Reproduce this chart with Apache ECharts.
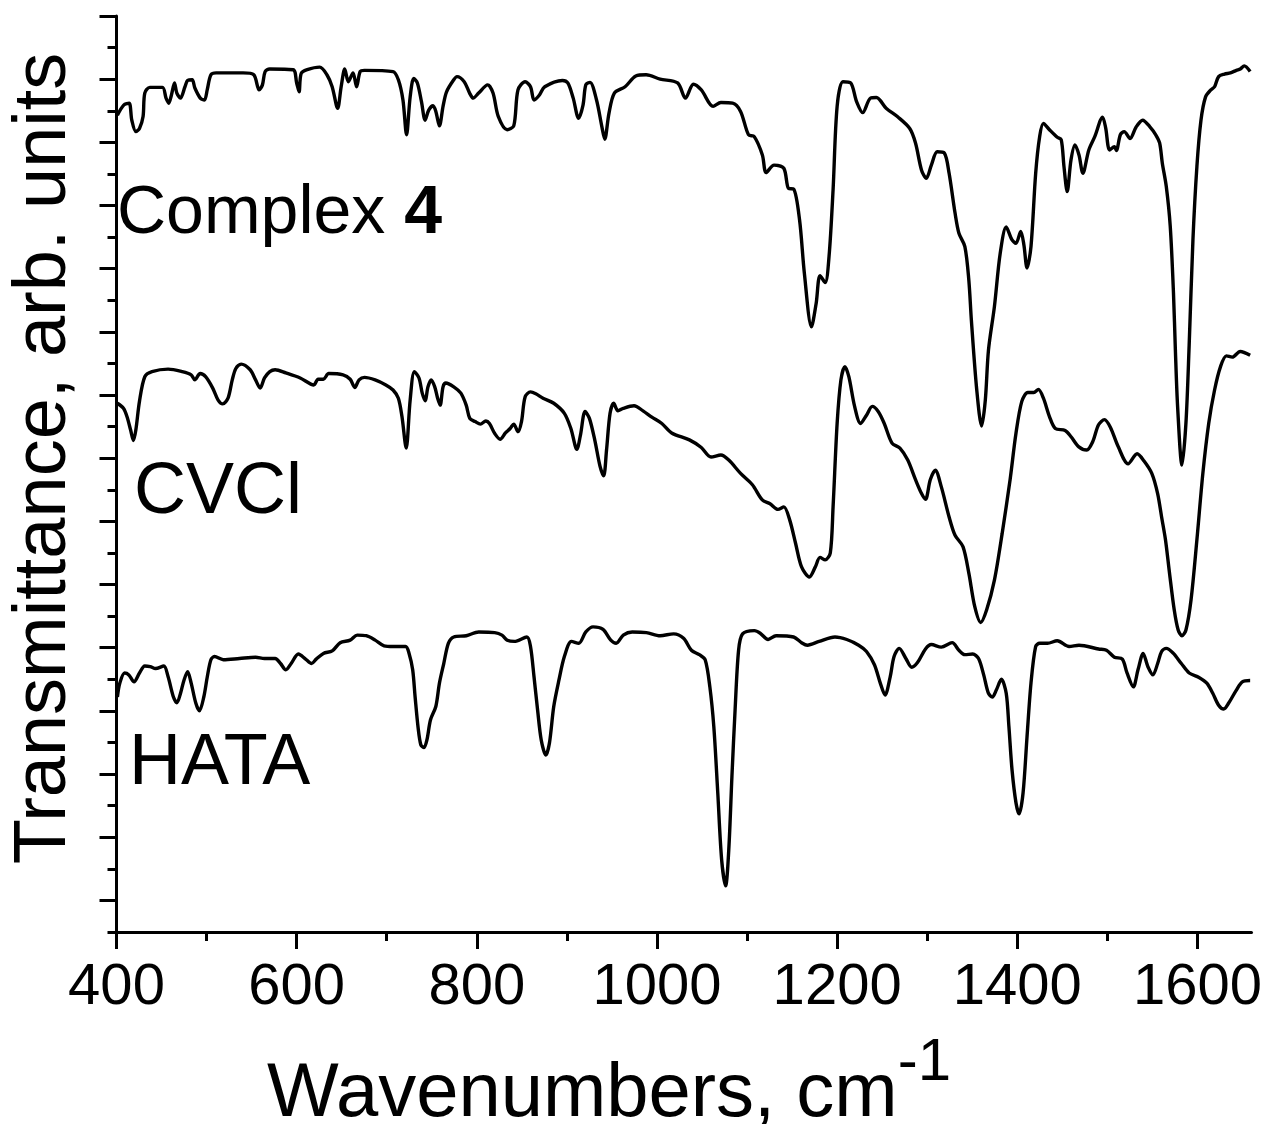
<!DOCTYPE html>
<html>
<head>
<meta charset="utf-8">
<script src="https://cdn.jsdelivr.net/npm/echarts@6/dist/echarts.min.js"></script>
<style>
html,body{margin:0;padding:0;background:#fff;}
#chart{width:1267px;height:1124px;}
</style>
</head>
<body>
<div id="chart"></div>
<script>
// Tick positions (wavenumber, cm-1) and transmittance axis (arb. units)
const X_MAJOR = [400, 600, 800, 1000, 1200, 1400, 1600];
const X_MINOR = [500, 700, 900, 1100, 1300, 1500];
const Y_MAJOR = [5, 15, 25, 35, 45, 55, 65, 75, 85, 95, 105, 115, 125, 135, 145];
const Y_MINOR = [0, 10, 20, 30, 40, 50, 60, 70, 80, 90, 100, 110, 120, 130, 140];

const SERIES_NAMES = ['Complex 4', 'CVCl', 'HATA'];

// [wavenumber, transmittance (offset, arb. units)]
const COMPLEX4 = [
[401,129.3],[408,130.9],[414,131.2],[417,128.5],[421.5,126.7],[425.5,127.2],[429.5,129.1],[431.4,132.8],[437,133.7],[451,133.7],[455,132.0],[458,131.2],[461,132.5],[464.4,134.4],[467,132.8],[471,132.0],[476,133.8],[479,134.8],[484,134.9],[487,133.6],[493,132.0],[497.6,131.7],[500.7,133.3],[504.8,135.7],[510.7,136.0],[540.5,136.0],[552.4,135.7],[558.3,133.3],[562,134.1],[565,136.2],[570,136.6],[596,136.5],[600,134.4],[602.7,133.0],[605,135.9],[611.7,136.5],[625.6,136.9],[633.6,135.7],[639.4,133.8],[645.5,130.4],[649.4,133.8],[653.4,136.6],[657.4,134.6],[662.6,136.0],[666.5,133.8],[670.5,136.2],[675.3,136.4],[707,136.2],[712.9,134.9],[718,131.7],[722,126.2],[726,132.2],[730,135.1],[734,134.4],[738.6,131.4],[742.6,128.5],[746.6,130.1],[751.4,130.8],[754.5,129.9],[758.5,127.6],[762.5,130.7],[766.4,133.0],[774.4,134.9],[778,135.4],[786,134.6],[792,132.8],[796,132.0],[802,132.8],[812,134.1],[818,132.8],[823.8,129.1],[833.6,127.0],[841,127.6],[845.7,133.3],[853.6,134.6],[859.6,133.8],[863.6,131.7],[869.5,132.5],[875.4,133.8],[895,134.8],[901,134.4],[907,132.0],[913,128.8],[917.9,130.9],[921,134.1],[925.7,134.5],[932.9,131.7],[938.8,127.5],[942,125.5],[946.7,129.6],[952.7,132.8],[964.6,133.8],[976.5,135.5],[988,135.7],[1003.5,135.0],[1022.9,134.4],[1031.6,132.0],[1040.4,134.2],[1049.2,133.3],[1062.3,130.7],[1071,131.3],[1084,131.2],[1092.8,129.9],[1101.6,126.2],[1108,125.9],[1117,123.0],[1121.2,120.2],[1130,121.4],[1140.8,120.9],[1146,117.7],[1151.7,117.6],[1158.3,112.7],[1163.6,104.3],[1171.5,95.8],[1176.7,99.5],[1181,103.9],[1186.7,102.8],[1191,106.9],[1195.5,117.5],[1200,130.7],[1206.4,134.6],[1215,134.4],[1221.7,131.4],[1228.3,129.7],[1237,132.0],[1243.6,132.1],[1254.4,130.4],[1267.5,129.0],[1280.6,127.2],[1287,124.9],[1293.7,120.6],[1299,119.3],[1304.6,121.4],[1311.2,123.5],[1319,123.3],[1324.3,120.1],[1330.9,113.8],[1335.2,110.6],[1341.8,108.5],[1346.2,103.2],[1349,96.9],[1355,85.8],[1360.4,80.1],[1364.5,84.2],[1368,92.1],[1374.6,99.0],[1381,107.4],[1387.7,111.6],[1394,109.6],[1398.5,109.0],[1403.8,110.9],[1407.3,108.8],[1410.8,105.1],[1415.2,108.5],[1420.4,120.1],[1424.8,125.9],[1429,128.0],[1435.7,127.0],[1444.4,125.8],[1448.8,125.4],[1451.8,121.2],[1455.4,117.2],[1459.6,122.2],[1464,124.6],[1468.5,123.0],[1472.8,120.1],[1479.4,123.8],[1486,125.9],[1494.7,129.0],[1498.1,127.3],[1502.5,123.8],[1507.8,124.3],[1510,123.7],[1514.4,126.2],[1518.7,126.7],[1525.2,125.6],[1531.8,127.4],[1539.2,128.5],[1547,127.5],[1553.7,126.2],[1558,124.9],[1561,121.7],[1565.4,118.0],[1569.8,111.7],[1573.4,101.1],[1575.5,92.1],[1578,83.1],[1582.8,73.9],[1587.2,80.5],[1590.8,92.9],[1595,109.6],[1599.4,121.2],[1603.9,128.5],[1609,132.2],[1614.8,133.3],[1619,133.8],[1623.5,135.4],[1630,135.8],[1636.6,136.0],[1643.2,136.4],[1647.5,136.6],[1652,137.1],[1658.5,136.2]
];

const CVCL = [
[401,83.7],[407.7,82.9],[411.6,81.6],[415.6,79.5],[418.8,77.8],[421.5,79.5],[425.5,84.0],[431.4,87.9],[439.4,88.7],[457.3,89.1],[473,88.7],[482.9,88.2],[486.9,87.4],[492.9,88.4],[498.9,87.9],[506.8,86.1],[512.8,84.2],[517.9,83.6],[523.8,84.5],[528.5,87.4],[532.5,89.2],[538.4,89.9],[548.4,89.0],[554.4,87.4],[559.5,86.1],[564.3,87.7],[570.2,88.7],[576.1,89.0],[588,88.5],[603.9,87.7],[619,86.6],[623.8,87.5],[629.7,87.5],[635.6,88.4],[651.5,88.2],[659.4,87.5],[664.5,86.2],[669.3,87.4],[675.3,87.8],[687.1,87.4],[699,86.6],[707,85.8],[712.9,84.5],[716.9,81.6],[721.6,76.6],[726,84.2],[730.7,88.7],[735.8,87.7],[739.4,85.3],[742.6,84.1],[745.8,86.3],[749.3,87.4],[753.3,86.3],[756.5,84.5],[759.3,83.4],[762.5,86.3],[765.6,86.9],[774.4,86.3],[782.3,85.3],[788.2,83.4],[792.2,81.3],[798.1,80.8],[804,80.4],[810,80.9],[814,80.5],[819.9,78.9],[825.9,78.0],[831.8,79.0],[837,79.7],[841,80.4],[845.7,79.2],[849.6,80.8],[853.6,84.7],[859.6,85.5],[865.5,85.2],[873.5,84.5],[885.4,83.7],[897.2,82.1],[904.4,79.7],[911.1,76.4],[915.1,78.7],[920.2,82.4],[925,81.3],[930.9,77.9],[936.8,73.7],[940.8,72.2],[944,76.3],[947.9,82.1],[951.9,83.7],[956.7,82.5],[962.6,82.9],[974.5,83.3],[984.5,82.5],[994.3,81.5],[1005.4,80.5],[1016.3,79.0],[1036,77.9],[1049.2,76.7],[1060,75.2],[1071,75.5],[1079.7,74.7],[1092.8,72.6],[1105.9,70.8],[1116.9,68.4],[1125.5,67.8],[1134.3,66.9],[1140.8,67.3],[1147.4,65.2],[1153.9,61.5],[1160.5,57.8],[1169.2,56.2],[1175.8,57.8],[1181,59.3],[1186.7,58.9],[1192.4,60.0],[1195.5,67.3],[1200,80.5],[1204.2,87.4],[1208.6,89.5],[1213,87.9],[1219.4,83.2],[1226,80.5],[1232.6,81.8],[1239,83.2],[1245.6,82.4],[1252.3,80.5],[1260.9,77.4],[1269.7,76.6],[1278.4,74.7],[1287,71.6],[1293.7,69.4],[1298.1,68.5],[1303.4,71.6],[1309,73.1],[1315.6,70.5],[1324.3,65.7],[1330.9,62.8],[1339.7,61.0],[1346.2,56.8],[1352.8,51.5],[1359.4,49.0],[1366,51.0],[1374.6,55.7],[1383.2,63.1],[1392,71.6],[1398.5,78.9],[1405,84.0],[1411.7,85.4],[1418.2,85.4],[1423.4,85.9],[1429,84.5],[1435.7,81.6],[1442.2,79.7],[1453.1,79.4],[1459.7,78.4],[1468.3,76.8],[1477.1,76.3],[1483.7,77.6],[1490.2,80.3],[1496.8,81.1],[1503.3,79.9],[1512.1,76.8],[1523,74.1],[1533,75.7],[1540.5,74.6],[1549.3,72.6],[1555.8,69.4],[1560.2,65.7],[1564.5,62.1],[1569,56.8],[1574.2,51.0],[1578.6,47.8],[1582.8,46.9],[1587.2,47.8],[1592.9,52.6],[1599.4,62.1],[1606,72.6],[1612.5,80.5],[1619,85.8],[1625.6,89.5],[1632.2,91.2],[1638.7,91.0],[1647.5,91.9],[1658.5,91.3]
];

const HATA = [
[401,37.2],[403.7,39.4],[409,41.0],[413.7,40.7],[419.5,39.6],[425.5,41.0],[431.4,42.1],[437.4,42.0],[443.4,41.7],[452.5,42.1],[457.3,40.4],[463.2,37.2],[467.1,36.3],[471.1,37.8],[475,39.9],[479,41.2],[482.9,39.4],[488.1,36.2],[492.1,35.0],[496.9,37.2],[500.8,40.4],[504.8,43.1],[508.8,43.6],[518.6,43.1],[536.5,43.3],[554.4,43.5],[564.3,43.3],[576.1,43.3],[582.1,42.5],[588,41.5],[593.9,42.5],[601.9,44.0],[609.9,43.2],[616.5,42.5],[621.7,43.2],[629.7,44.1],[639.5,44.5],[648.3,45.8],[659.4,46.2],[667.3,47.0],[677.2,46.9],[687.1,46.2],[697,45.3],[707,45.2],[720.9,45.2],[724.8,44.1],[728.8,41.5],[731.5,37.2],[734.7,32.5],[737.9,29.6],[741.4,29.2],[744.6,30.4],[748.6,33.6],[754.5,35.7],[758.5,39.4],[763.3,42.5],[768.4,45.7],[774.4,46.7],[788.3,46.9],[802.1,47.5],[819.9,47.4],[827.9,47.0],[833.8,46.2],[841.7,46.0],[855.6,46.7],[859.6,45.2],[863.5,40.4],[867.5,35.1],[871.5,30.4],[876.6,28.0],[880.6,29.9],[885.4,35.7],[891.2,39.9],[897.2,43.6],[905.1,46.0],[913.1,45.7],[921,47.5],[929,48.3],[940.1,47.9],[948.7,46.2],[954.7,45.7],[962.6,47.0],[972.5,47.5],[988.3,47.4],[1003.5,46.9],[1018.5,47.2],[1029.5,46.5],[1038.2,44.6],[1047,43.9],[1053.5,43.1],[1058.7,38.8],[1063.1,32.5],[1067.5,22.0],[1071.8,11.4],[1076.2,7.3],[1079.7,13.0],[1083.2,24.6],[1086.7,35.1],[1090.6,44.6],[1095,47.2],[1108.1,47.7],[1114.6,47.3],[1123.4,46.3],[1132.2,46.9],[1151.7,46.7],[1160.5,45.8],[1167,45.4],[1180.1,46.0],[1197.6,46.7],[1210.7,46.3],[1223.9,45.4],[1232.6,44.4],[1241.4,42.3],[1247.9,39.4],[1253.2,37.5],[1258.9,40.4],[1263.2,43.6],[1268.9,44.9],[1276.3,43.3],[1282.8,41.9],[1289.4,42.7],[1298.1,44.8],[1304.6,45.5],[1315.6,45.1],[1327.7,45.8],[1335.2,44.6],[1341.7,43.9],[1350.5,44.0],[1357,43.3],[1362.7,40.7],[1367.9,37.8],[1372.3,37.2],[1376.7,38.3],[1382.4,40.0],[1387.7,37.8],[1390.7,32.5],[1394.2,25.6],[1398.6,20.4],[1402,18.7],[1406.4,22.0],[1410.8,30.9],[1415.2,39.4],[1420.4,45.2],[1424.8,45.7],[1433.5,45.7],[1444.4,46.1],[1457.5,45.2],[1468.5,45.4],[1490.2,44.8],[1499,44.6],[1507.8,43.5],[1516.6,43.2],[1521.8,41.0],[1528.8,38.8],[1534,41.5],[1539.7,44.1],[1545,42.0],[1550.6,40.7],[1555.8,42.5],[1560.2,44.4],[1565.4,44.9],[1573.3,44.1],[1582.1,42.5],[1590.8,41.0],[1601.7,40.3],[1610.4,39.4],[1617,37.8],[1623.5,35.9],[1629.2,35.3],[1634.5,36.2],[1643.2,38.3],[1649.8,39.6],[1658.5,39.8]
];

const FONT = "'Liberation Sans', Arial, Helvetica, sans-serif";
const chart = echarts.init(document.getElementById('chart'), null, {renderer: 'canvas'});

function lineSeries(name, data) {
  return {
    name: name, type: 'line', data: data, xAxisIndex: 0, yAxisIndex: 0,
    showSymbol: false, symbol: 'none', smooth: 0.3,
    lineStyle: {color: '#000', width: 3.4}, silent: true
  };
}

const option = {
  animation: false,
  backgroundColor: '#fff',
  grid: {left: 116.5, right: 15.5, top: 16, bottom: 192, containLabel: false, outerBoundsMode: 'none'},
  xAxis: [
    {
      type: 'value', min: 400, max: 1660, position: 'bottom',
      axisLine: {show: true, onZero: false, lineStyle: {color: '#000', width: 3}},
      axisTick: {show: true, customValues: X_MAJOR, length: 17, lineStyle: {color: '#000', width: 3}},
      minorTick: {show: false},
      splitLine: {show: false},
      axisLabel: {show: true, customValues: X_MAJOR, margin: 27, color: '#000', fontSize: 58, fontFamily: FONT,
                  formatter: function (v) { return String(v); }},
      name: '{m|Wavenumbers, cm}{sup|-1}',
      nameLocation: 'middle', nameGap: 101,
      nameTextStyle: {
        color: '#000', fontSize: 76, fontFamily: FONT,
        padding: [0, 150, 0, 0],
        rich: {
          m: {fontSize: 76, lineHeight: 100, verticalAlign: 'bottom', fontFamily: FONT, color: '#000'},
          sup: {fontSize: 60, lineHeight: 60, verticalAlign: 'top', fontFamily: FONT, color: '#000'}
        }
      }
    },
    {
      type: 'value', min: 400, max: 1660, position: 'bottom',
      axisLine: {show: false},
      axisTick: {show: true, customValues: X_MINOR, length: 9, lineStyle: {color: '#000', width: 3}},
      axisLabel: {show: false}, splitLine: {show: false}
    }
  ],
  yAxis: [
    {
      type: 'value', min: 0, max: 145, position: 'left',
      axisLine: {show: true, onZero: false, lineStyle: {color: '#000', width: 3}},
      axisTick: {show: true, customValues: Y_MAJOR, length: 17, lineStyle: {color: '#000', width: 3}},
      axisLabel: {show: false}, splitLine: {show: false},
      name: 'Transmittance, arb. units',
      nameLocation: 'middle', nameRotate: 90, nameGap: 35,
      nameTextStyle: {color: '#000', fontSize: 74, fontFamily: FONT, padding: [0, 0, 0, 31]}
    },
    {
      type: 'value', min: 0, max: 145, position: 'left',
      axisLine: {show: false},
      axisTick: {show: true, customValues: Y_MINOR, length: 9, lineStyle: {color: '#000', width: 3}},
      axisLabel: {show: false}, splitLine: {show: false}
    }
  ],
  graphic: [
    {type: 'text', left: 117, top: 180, silent: true,
     style: {text: 'Complex {b|4}', fontSize: 68, fontFamily: FONT, fill: '#000',
             rich: {b: {fontSize: 68, fontWeight: 'bold', fontFamily: FONT, fill: '#000'}}}},
    {type: 'text', left: 134, top: 457, silent: true,
     style: {text: SERIES_NAMES[1], fontSize: 72, fontFamily: FONT, fill: '#000'}},
    {type: 'text', left: 129, top: 728, silent: true,
     style: {text: SERIES_NAMES[2], fontSize: 72, fontFamily: FONT, fill: '#000'}}
  ],
  series: [
    lineSeries(SERIES_NAMES[0], COMPLEX4),
    lineSeries(SERIES_NAMES[1], CVCL),
    lineSeries(SERIES_NAMES[2], HATA)
  ]
};
chart.setOption(option);
</script>
</body>
</html>
